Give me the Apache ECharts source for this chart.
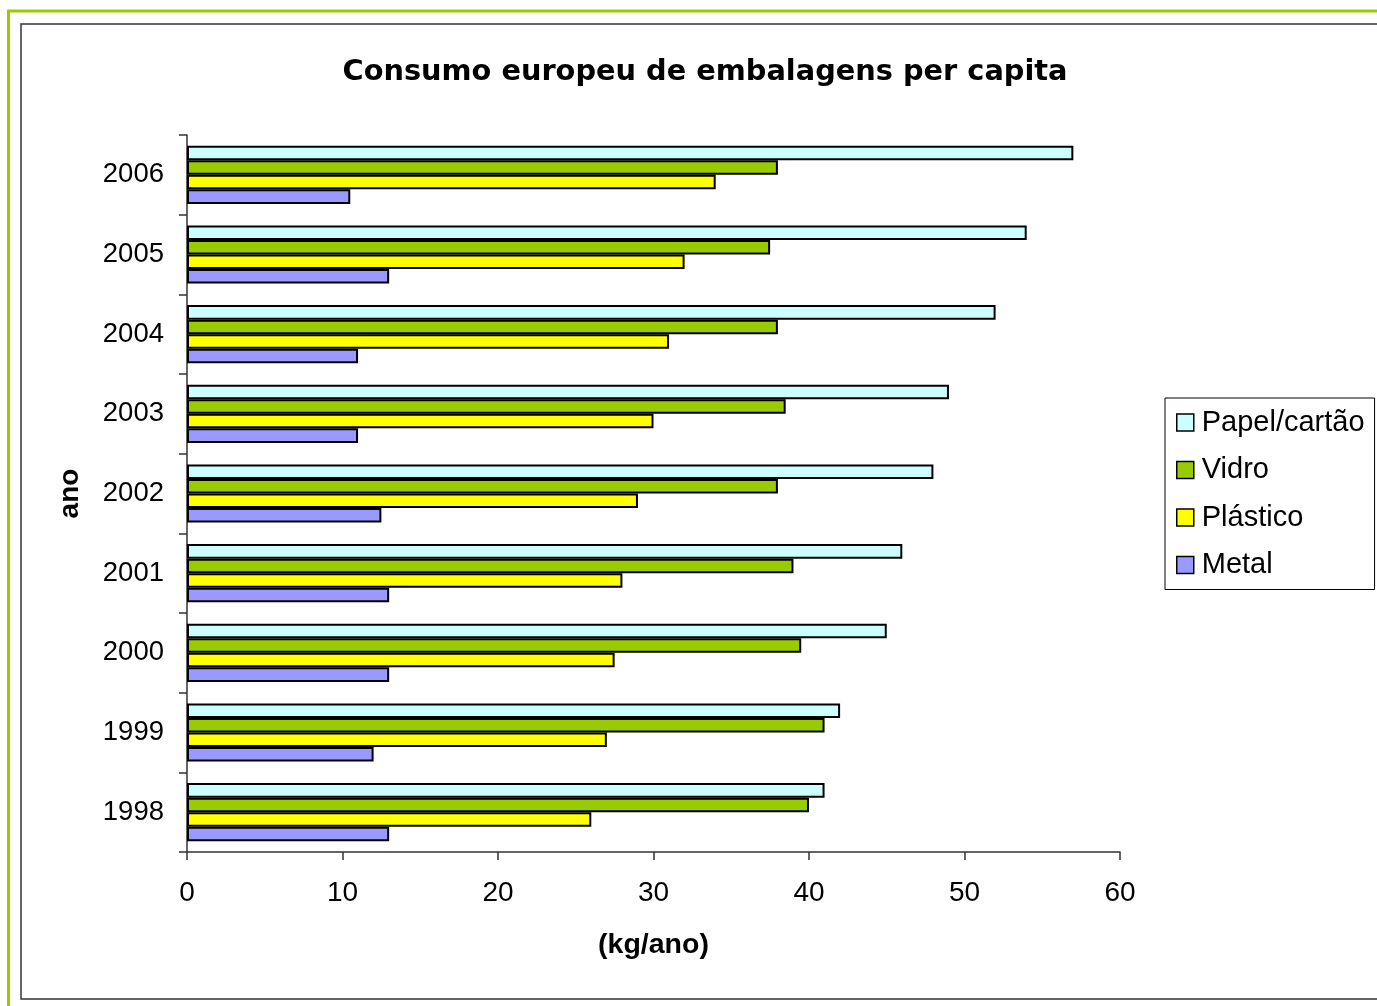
<!DOCTYPE html>
<html>
<head>
<meta charset="utf-8">
<script src="https://cdn.jsdelivr.net/npm/echarts@6/dist/echarts.min.js"></script>
<style>
  html, body { margin: 0; padding: 0; background: #fff; }
  #chart { width: 1377px; height: 1006px; }
</style>
</head>
<body>
<div id="chart"></div>
<script>
// Consumo europeu de embalagens per capita (kg/ano)
const anos = ['1998', '1999', '2000', '2001', '2002', '2003', '2004', '2005', '2006'];
const papelCartao = [41, 42, 45, 46, 48, 49, 52, 54, 57];
const vidro       = [40, 41, 39.5, 39, 38, 38.5, 38, 37.5, 38];
const plastico    = [26, 27, 27.5, 28, 29, 30, 31, 32, 34];
const metal       = [13, 12, 13, 13, 12.5, 11, 11, 13, 10.5];
const xTicks = [0, 10, 20, 30, 40, 50, 60];

const font = 'Liberation Sans, Arial, sans-serif';
const chart = echarts.init(document.getElementById('chart'));

function barSeries(name, data, color) {
  return {
    name: name,
    type: 'bar',
    data: data,
    barGap: '0%',
    barCategoryGap: '27%',
    itemStyle: { color: color, borderColor: '#000', borderWidth: 2 },
    emphasis: { disabled: true }
  };
}

chart.setOption({
  animation: false,
  backgroundColor: '#fff',
  title: {
    text: 'Consumo europeu de embalagens per capita',
    left: 700, top: 53, textAlign: 'center',
    textStyle: { fontFamily: 'DejaVu Sans, sans-serif', fontWeight: 'bold', fontSize: 28.8, color: '#000' }
  },
  legend: {
    orient: 'vertical',
    left: 1165, top: 398,
    padding: [10, 10, 10, 11],
    itemGap: 18.5,
    itemWidth: 17, itemHeight: 17,
    borderColor: '#000', borderWidth: 1,
    backgroundColor: '#fff',
    data: ['Papel/cartão', 'Vidro', 'Plástico', 'Metal'],
    icon: 'rect',
    itemStyle: { borderColor: '#000', borderWidth: 1.5 },
    textStyle: { fontFamily: font, fontSize: 29, color: '#000', padding: [0, 0, 0, 3] }
  },
  grid: { left: 187, right: 257, top: 135, bottom: 154, containLabel: false },
  xAxis: {
    type: 'value',
    min: 0, max: 60, interval: 10,
    name: '(kg/ano)',
    nameLocation: 'middle',
    nameGap: 79,
    nameTextStyle: { fontFamily: font, fontWeight: 'bold', fontSize: 28.5, color: '#000' },
    axisLine: { show: true, lineStyle: { color: '#333', width: 1.5 } },
    axisTick: { show: true, length: 8, lineStyle: { color: '#333', width: 1.5 } },
    axisLabel: {
      fontFamily: font, fontSize: 28, color: '#000', margin: 27,
      formatter: function (v) { return xTicks.indexOf(v) >= 0 ? String(v) : ''; }
    },
    splitLine: { show: false }
  },
  yAxis: {
    type: 'category',
    data: anos,
    name: 'ano',
    nameLocation: 'middle',
    nameGap: 103,
    nameRotate: 90,
    nameTextStyle: { fontFamily: font, fontWeight: 'bold', fontSize: 28, color: '#000' },
    axisLine: { show: true, lineStyle: { color: '#333', width: 1.5 } },
    axisTick: { show: true, length: 8, lineStyle: { color: '#333', width: 1.5 } },
    axisLabel: { fontFamily: font, fontSize: 27.5, color: '#000', margin: 23, padding: [4, 0, 0, 0] }
  },
  series: [
    barSeries('Papel/cartão', papelCartao, '#ccffff'),
    barSeries('Vidro', vidro, '#99cc00'),
    barSeries('Plástico', plastico, '#ffff00'),
    barSeries('Metal', metal, '#9999ff')
  ],
  graphic: [
    { type: 'rect', silent: true, z: 100,
      shape: { x: 8.5, y: 11, width: 1420, height: 1050 },
      style: { fill: null, stroke: '#99cc00', lineWidth: 3 } },
    { type: 'rect', silent: true, z: 100,
      shape: { x: 21, y: 24, width: 1400, height: 975 },
      style: { fill: null, stroke: '#333', lineWidth: 1.5 } }
  ]
});
</script>
</body>
</html>
